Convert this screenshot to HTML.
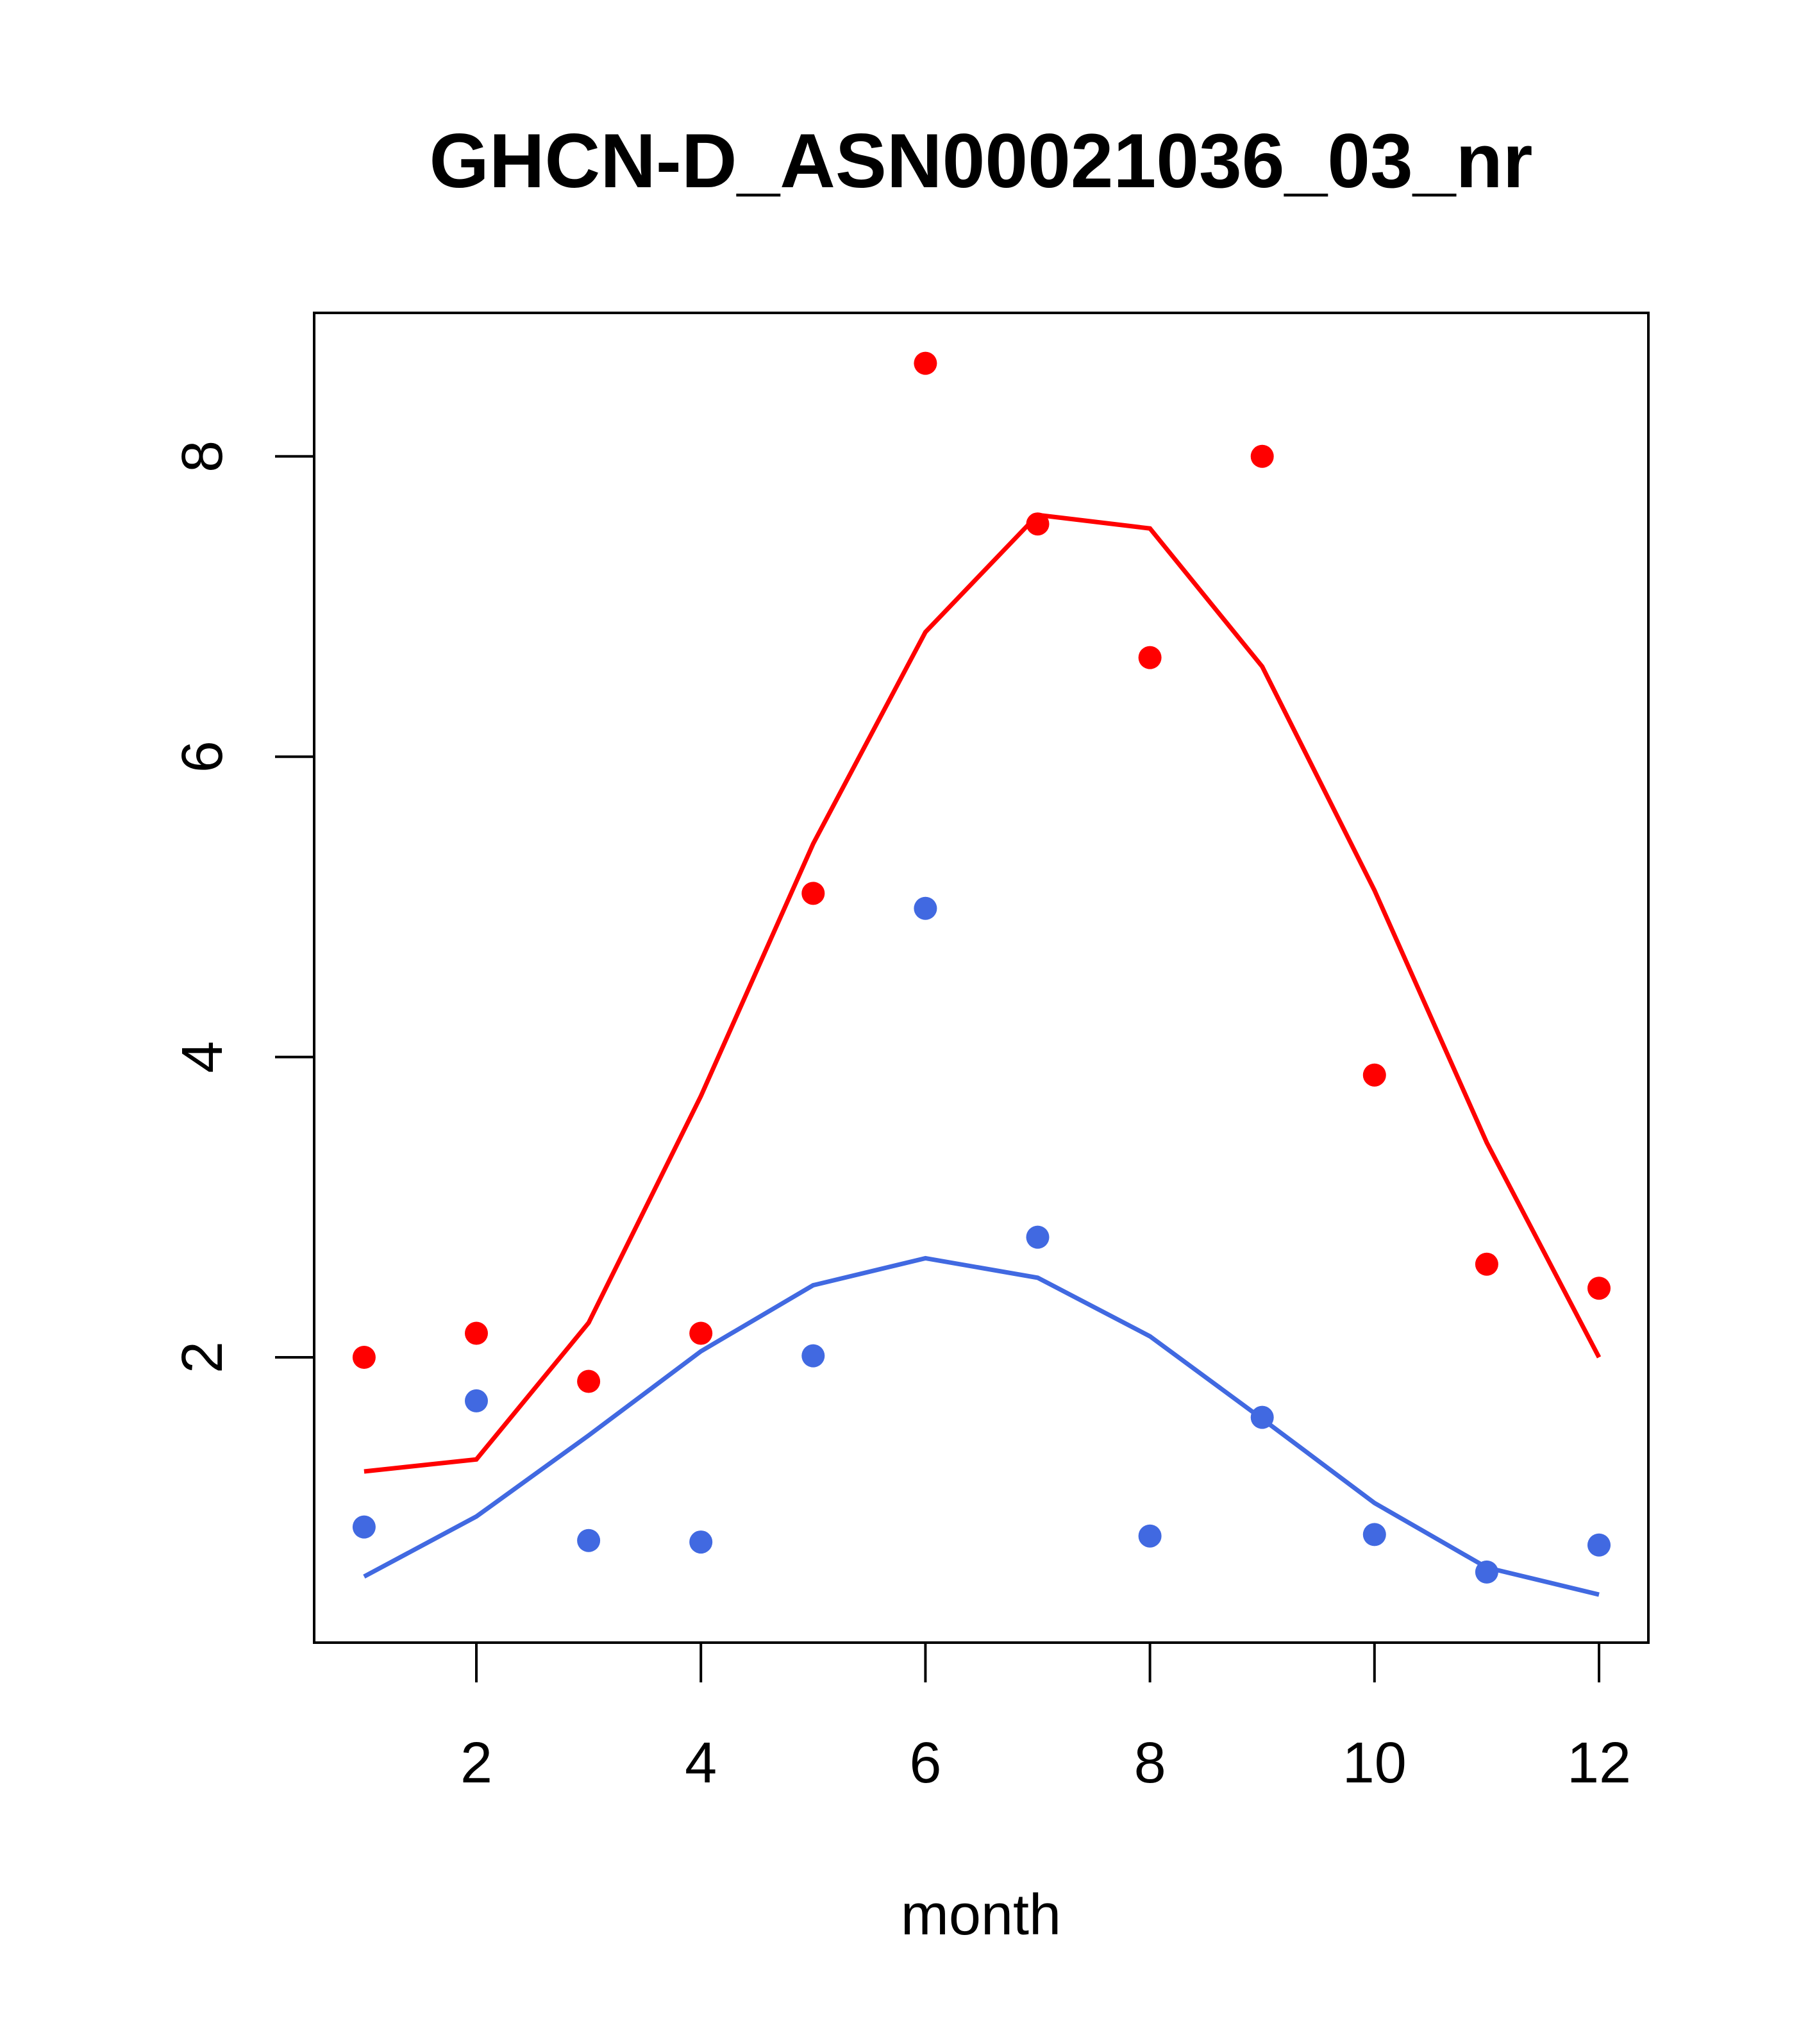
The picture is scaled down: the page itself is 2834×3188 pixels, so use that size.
<!DOCTYPE html>
<html><head><meta charset="utf-8"><style>body{margin:0;background:#fff}svg{display:block}</style></head>
<body>
<svg id="chart" width="2834" height="3188" viewBox="0 0 2834 3188" xmlns="http://www.w3.org/2000/svg" font-family="Liberation Sans, sans-serif">
<rect width="2834" height="3188" fill="#fff"/>
<text x="1530" y="292" font-size="120" font-weight="bold" text-anchor="middle">GHCN-D_ASN00021036_03_nr</text>
<rect x="490" y="488" width="2081" height="2074" fill="none" stroke="#000" stroke-width="4"/>
<text x="1530" y="3017" font-size="90" text-anchor="middle">month</text>
<g id="axes"></g>
<g id="marks"></g>
</svg>
<script>
const months=[1,2,3,4,5,6,7,8,9,10,11,12];
const redPoints=[2.0,2.16,1.84,2.16,5.09,8.62,7.55,6.66,8.0,3.88,2.62,2.46];
const redLine=[1.24,1.32,2.23,3.74,5.42,6.83,7.61,7.52,6.6,5.11,3.43,2.0];
const bluePoints=[0.87,1.71,0.78,0.77,2.01,4.99,2.80,0.81,1.60,0.82,0.57,0.75];
const blueLine=[0.54,0.94,1.48,2.04,2.48,2.66,2.53,2.14,1.59,1.03,0.60,0.42];
const xTicks=[2,4,6,8,10,12];
const yTicks=[2,4,6,8];
const NS='http://www.w3.org/2000/svg';
function xs(m){return 743+(m-2)*175.1;}
function ys(v){return 2117-(v-2)*234.2;}
const axes=document.getElementById('axes'),marks=document.getElementById('marks');
function mk(tag,attrs,parent){const e=document.createElementNS(NS,tag);for(const k in attrs)e.setAttribute(k,attrs[k]);parent.appendChild(e);return e;}
xTicks.forEach(t=>{
  const l=mk('line',{x1:xs(t),x2:xs(t),y1:2562,y2:2624,stroke:'#000','stroke-width':4},axes);
  
  
  const tx=mk('text',{x:xs(t),y:2780,'font-size':90,'text-anchor':'middle'},axes);
  tx.textContent=t;
  
  
});
yTicks.forEach(t=>{
  const l=mk('line',{x1:429,x2:490,y1:ys(t),y2:ys(t),stroke:'#000','stroke-width':4},axes);
  
  
  const tx=mk('text',{x:0,y:0,'font-size':90,'text-anchor':'middle',transform:`translate(346,${ys(t)}) rotate(-90)`},axes);
  tx.textContent=t;
  
  
});
function line(vals,color,name){
  const p=mk('polyline',{points:vals.map((v,i)=>xs(months[i])+','+ys(v)).join(' '),fill:'none',stroke:color,'stroke-width':7},marks);
  
  
}
function pts(vals,color,name){
  vals.forEach((v,i)=>{
    const c=mk('circle',{cx:xs(months[i]),cy:ys(v),r:18,fill:color},marks);
    
    
  });
}
line(redLine,'#FF0000','red-line');
line(blueLine,'#4169E1','blue-line');
pts(redPoints,'#FF0000','red-point');
pts(bluePoints,'#4169E1','blue-point');
</script>
</body></html>
